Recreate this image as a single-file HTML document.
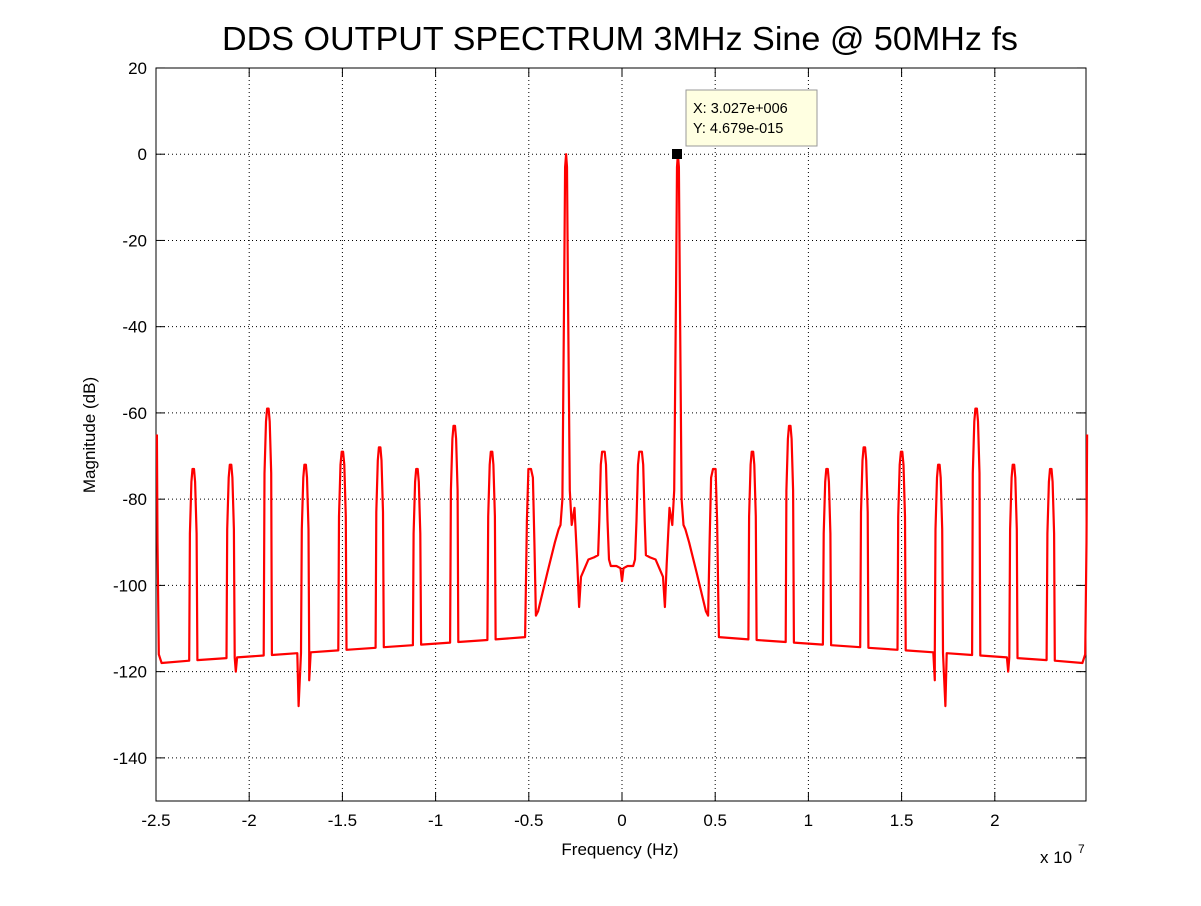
<!DOCTYPE html>
<html><head><meta charset="utf-8"><style>
body{margin:0;background:#fff;width:1201px;height:901px;overflow:hidden}
svg text{font-family:"Liberation Sans",Arial,sans-serif}
</style></head><body>
<svg width="1201" height="901" xmlns="http://www.w3.org/2000/svg">
<rect width="1201" height="901" fill="#fff"/>
<g id="grid" stroke="#000" stroke-width="1" stroke-dasharray="1,3"></g>
<rect x="156" y="68" width="930" height="733" fill="none" stroke="#000"/>
<g id="ticks" stroke="#000"></g>
<g id="labels" font-size="17" fill="#000"></g>
<path id="curve" fill="none" stroke="#ff0000" stroke-width="2.2" stroke-linejoin="round"/>
<text x="620" y="50" font-size="33" text-anchor="middle" textLength="796" lengthAdjust="spacingAndGlyphs">DDS OUTPUT SPECTRUM 3MHz Sine @ 50MHz fs</text>
<text x="620" y="855" font-size="17" text-anchor="middle">Frequency (Hz)</text>
<text x="95" y="435" font-size="17" text-anchor="middle" transform="rotate(-90 95 435)">Magnitude (dB)</text>
<text x="1040" y="863" font-size="17">x 10</text><text x="1078" y="853" font-size="12">7</text>
<rect x="686" y="90" width="131" height="56" fill="#ffffe1" stroke="#999"/>
<text x="693" y="113" font-size="14.5">X: 3.027e+006</text>
<text x="693" y="133" font-size="14.5">Y: 4.679e-015</text>
<rect x="672" y="149" width="10" height="10" fill="#000"/>
</svg>
<script>
var X=f=>622+f*18.64, Y=d=>154.2-d*4.312;
var g=document.getElementById('grid'),t=document.getElementById('ticks'),l=document.getElementById('labels');
var ns='http://www.w3.org/2000/svg';
function el(p,n,a,txt){var e=document.createElementNS(ns,n);for(var k in a)e.setAttribute(k,a[k]);if(txt)e.textContent=txt;p.appendChild(e);}
for(var v=-25;v<=20;v+=5){var x=X(v);if(v>-25)el(g,'line',{x1:x,x2:x,y1:68,y2:801});
el(t,'line',{x1:x,x2:x,y1:801,y2:792});el(t,'line',{x1:x,x2:x,y1:68,y2:77});
el(l,'text',{x:x,y:826,'text-anchor':'middle'},v==0?'0':(v/10).toString());}
for(var d=20;d>=-140;d-=20){var y=Y(d);if(d<20)el(g,'line',{x1:156,x2:1086,y1:y,y2:y});
el(t,'line',{x1:156,x2:165,y1:y,y2:y});el(t,'line',{x1:1077,x2:1086,y1:y,y2:y});
el(l,'text',{x:147,y:y+6,'text-anchor':'end'},d.toString());}
var P=[[0,-99],[0.08,-96],[0.3,-95.5],[0.6,-95.5],[0.7,-94],[0.78,-85],[0.86,-72],[0.93,-69],[1.07,-69],[1.14,-72],[1.22,-85],[1.28,-93],[1.5,-93.5],[1.8,-94],[2.0,-96],[2.2,-98],[2.3,-105],[2.4,-95],[2.55,-82],[2.7,-86],[2.8,-78],[2.9,-30],[2.95,-3],[3.0,0],[3.05,-3],[3.1,-30],[3.2,-80],[3.3,-86],[3.4,-87],[3.6,-90],[4.0,-97],[4.5,-106],[4.62,-107],[4.7,-90],[4.78,-75],[4.88,-73],[5.02,-73],[5.1,-85],[5.2,-112]];
var fl=f=>-112-(f-5)*6/20;
var spurs=[[7,-69],[9,-63],[11,-73],[13,-68],[15,-69],[17,-72],[19,-59],[21,-72],[23,-73]];
spurs.forEach(function(s){var f=s[0],p=s[1];
 if(f==17){P.push([16.7,fl(16.7)],[16.78,-122]);}
 if(f==21){P.push([20.65,fl(20.65)],[20.72,-120]);}
 P.push([f-0.22,fl(f-0.22)],[f-0.18,p-15],[f-0.1,p-3],[f-0.04,p],[f+0.04,p],[f+0.1,p-3],[f+0.18,p-15],[f+0.22,fl(f+0.22)]);
 if(f==17){P.push([17.35,-128],[17.42,fl(17.42)]);}
});
P.push([24.7,-118],[24.85,-116],[24.92,-90],[24.95,-65]);
P.sort((a,b)=>a[0]-b[0]);
var all=[];for(var i=P.length-1;i>0;i--)all.push([-P[i][0],P[i][1]]);all=all.concat(P);
document.getElementById('curve').setAttribute('d','M'+all.map(p=>X(p[0]).toFixed(1)+','+Y(p[1]).toFixed(1)).join('L'));
</script>
</body></html>
